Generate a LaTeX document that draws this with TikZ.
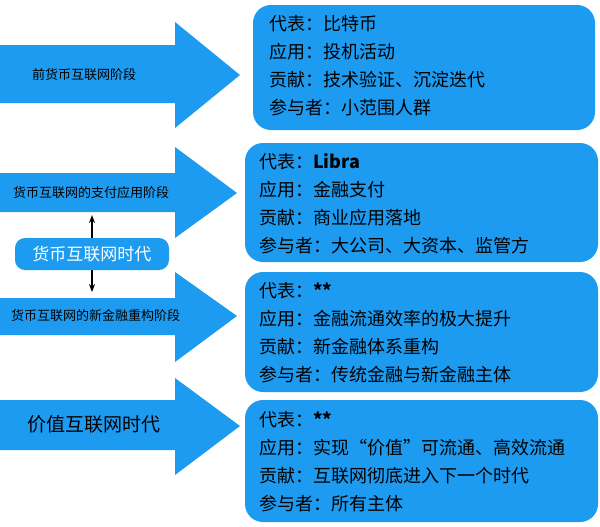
\documentclass[tikz,border=0pt]{standalone}
\usepackage{fontspec}
\newfontfamily\cjk{Noto Sans CJK SC}
\usetikzlibrary{arrows.meta}
\definecolor{bl}{HTML}{1D9BF0}
\begin{document}
\begin{tikzpicture}[x=0.5pt,y=-0.5pt,font=\cjk,
  arr/.style={fill=bl,draw=none},
  box/.style={fill=bl,draw=none,rounded corners=9pt},
  lab/.style={anchor=west,font=\cjk\fontsize{6.5}{8}\selectfont,text=black},
  info/.style={anchor=north west,align=left,font=\cjk\fontsize{9}{14}\selectfont,text=black},
  dbl/.style={-{Stealth[length=4pt]},line width=0.8pt}]
\useasboundingbox (0,0) rectangle (600,526);
\fill[white] (0,0) rectangle (600,526);
% arrows
\fill[arr] (0,45) -- (175,45) -- (175,22) -- (240,75) -- (175,128) -- (175,103) -- (0,103) -- cycle;
\fill[arr] (0,173) -- (175,173) -- (175,147) -- (237,193) -- (175,238) -- (175,212) -- (0,212) -- cycle;
\fill[arr] (0,298) -- (175,298) -- (175,272) -- (237,316) -- (175,362) -- (175,335) -- (0,335) -- cycle;
\fill[arr] (0,400) -- (175,400) -- (175,378) -- (240,426) -- (175,475) -- (175,450) -- (0,450) -- cycle;
\node[lab] (a1) at (25,75) {前货币互联网阶段};
\node[lab] (a2) at (6,193) {货币互联网的支付应用阶段};
\node[lab] (a3) at (4,316) {货币互联网的新金融重构阶段};
\node[lab,font=\cjk\fontsize{9.5}{11}\selectfont] (a4) at (20,424) {价值互联网时代};
% middle
\node[box,rounded corners=5pt,minimum width=77pt,minimum height=16pt,text=white,font=\cjk\fontsize{8.5}{10}\selectfont] (era) at (92,254) {货币互联网时代};
\coordinate (up) at (92,215);
\coordinate (dn) at (92,292);
\draw[dbl] (era.north) -- (up);
\draw[dbl] (era.south) -- (dn);
% boxes
\fill[box] (253,5) rectangle (595,130);
\fill[box] (245,143) rectangle (598,262);
\fill[box] (245,272) rectangle (598,392);
\fill[box] (245,400) rectangle (598,522);
\node[info] (b1) at (262,8) {代表：比特币\\应用：投机活动\\贡献：技术验证、沉淀迭代\\参与者：小范围人群};
\node[info] (b2) at (252,146) {代表：\textbf{Libra}\\应用：金融支付\\贡献：商业应用落地\\参与者：大公司、大资本、监管方};
\node[info] (b3) at (252,275) {代表：\textbf{**}\\应用：金融流通效率的极大提升\\贡献：新金融体系重构\\参与者：传统金融与新金融主体};
\node[info] (b4) at (252,404) {代表：\textbf{**}\\应用：实现“价值”可流通、高效流通\\贡献：互联网彻底进入下一个时代\\参与者：所有主体};
\end{tikzpicture}
\end{document}
